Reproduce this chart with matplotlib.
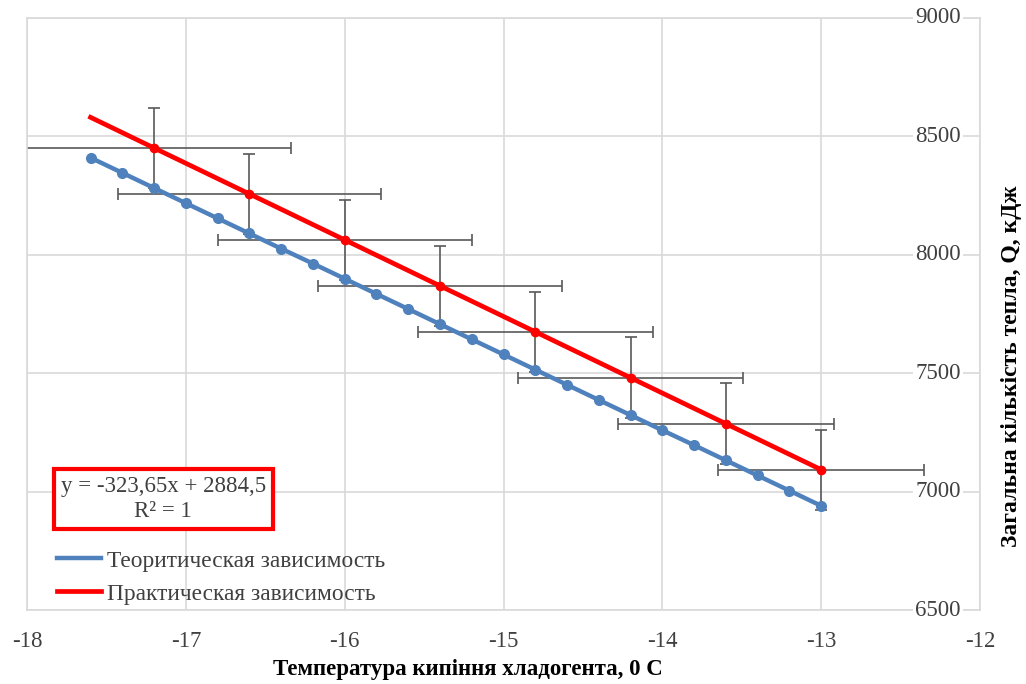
import numpy as np
import matplotlib
matplotlib.use("Agg")
import matplotlib.pyplot as plt
from matplotlib.lines import Line2D

# Theoretical curve (blue)
theory_x = [-17.6, -17.4, -17.2, -17.0, -16.8, -16.6, -16.4, -16.2, -16.0, -15.8,
            -15.6, -15.4, -15.2, -15.0, -14.8, -14.6, -14.4, -14.2, -14.0, -13.8,
            -13.6, -13.4, -13.2, -13.0]
theory_q = [8410, 8346, 8282, 8218, 8154, 8090, 8026, 7963, 7899, 7835,
            7771, 7707, 7643, 7579, 7515, 7451, 7387, 7323, 7259, 7196,
            7132, 7068, 7004, 6940]

# Practical points (red) with error bars
prac_x = [-17.2, -16.6, -16.0, -15.4, -14.8, -14.2, -13.6, -13.0]
prac_q = [8451, 8257, 8063, 7869, 7675, 7481, 7287, 7092]
prac_xerr = [0.86, 0.83, 0.80, 0.77, 0.74, 0.71, 0.68, 0.65]
prac_qerr = [170, 170, 170, 170, 170, 170, 170, 170]

x_ticks = [-18, -17, -16, -15, -14, -13, -12]
y_ticks = [6500, 7000, 7500, 8000, 8500, 9000]

blue = "#4F81BD"
red = "#FF0000"
grid_c = "#D9D9D9"
txt_c = "#404040"

plt.rcParams["font.family"] = ["Liberation Serif", "DejaVu Serif"]
plt.rcParams["axes.unicode_minus"] = False

fig = plt.figure(figsize=(10.26, 6.84), dpi=100)
ax = fig.add_axes([27 / 1026, 1 - 610 / 684, 953 / 1026, 592 / 684])

# error bars first, then lines on top
ax.errorbar(prac_x, prac_q, xerr=prac_xerr, yerr=prac_qerr, fmt="none",
            ecolor="#595959", elinewidth=1.2, capsize=4, capthick=1.2, zorder=2)

ax.plot(theory_x, theory_q, color=blue, lw=3.2, marker="o", ms=7, zorder=3)

# linear trendline of the practical data over the full range
k, b = np.polyfit(prac_x, prac_q, 1)
trend_x = np.array([min(theory_x), max(theory_x)])
ax.plot(trend_x, k * trend_x + b, color=red, lw=3.4, zorder=4)
ax.plot(prac_x, prac_q, "o", color=red, ms=6, zorder=5)

ax.set_xlim(-18, -12)
ax.set_ylim(6500, 9000)
ax.set_xticks(x_ticks)
ax.set_yticks(y_ticks)
ax.grid(True, color=grid_c, lw=1.2)
ax.set_axisbelow(True)
for s in ax.spines.values():
    s.set_color(grid_c)
    s.set_linewidth(1.2)

ax.tick_params(axis="x", length=0, pad=15, labelsize=16.5, labelcolor=txt_c)
ax.tick_params(axis="y", length=0, labelleft=False, labelright=False)

# y labels sit inside the plot, left of the right-hand axis, over the grid
ytrans = ax.get_yaxis_transform()
for v in y_ticks:
    ax.text(0.98, v, str(v), transform=ytrans, ha="right", va="center",
            fontsize=16.5, color=txt_c, zorder=6, clip_on=False,
            bbox=dict(facecolor="white", edgecolor="none", pad=1.5))

# equation box
ax.text(0.143, 0.188, "y = -323,65x + 2884,5\nR² = 1", transform=ax.transAxes,
        ha="center", va="center", multialignment="center", fontsize=16.5,
        color=txt_c, linespacing=1.25,
        bbox=dict(boxstyle="square,pad=0.3", facecolor="white",
                  edgecolor=red, lw=3))

handles = [Line2D([], [], color=blue, lw=3.2), Line2D([], [], color=red, lw=3.4)]
ax.legend(handles, ["Теоритическая зависимость", "Практическая зависимость"],
          loc="upper left", bbox_to_anchor=(0.031, 0.101), frameon=False,
          fontsize=16.8, handlelength=1.9, handletextpad=0.25, labelspacing=0.5,
          borderpad=0, borderaxespad=0, labelcolor=txt_c)

fig.text(468 / 1026, 1 - 669 / 684, "Температура кипіння хладогента, 0 C",
         ha="center", va="center", fontsize=16.5, fontweight="bold")
fig.text(1012 / 1026, 1 - 366 / 684, "Загальна кількість тепла, Q, кДж",
         ha="center", va="center", rotation=90, fontsize=17, fontweight="bold")

fig.savefig("out.png", dpi=100)
